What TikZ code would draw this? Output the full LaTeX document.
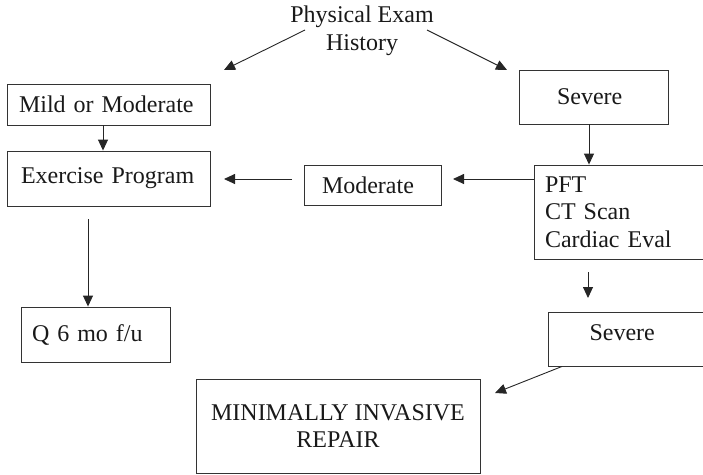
\documentclass[tikz,border=0pt]{standalone}
\usepackage{fontspec}
\setmainfont{Liberation Serif}
\usetikzlibrary{arrows.meta}
\begin{document}
\hyphenpenalty=10000\relax
\begin{tikzpicture}[x=1pt,y=-1pt,
  font=\fontsize{24pt}{27.6pt}\selectfont,
  every node/.style={text=black!90},
  box/.style={draw=black!80,line width=0.9pt,inner ysep=0pt},
  lbox/.style={box,align=left},
  conn/.style={draw=black!85,line width=0.9pt,-{Triangle[length=11pt,width=10pt]}}]
\useasboundingbox (0,0) rectangle (703,474);
% nodes
\node[inner sep=0pt,align=center] (phys) at (362,31) {Physical Exam\\History};
\node[lbox,inner xsep=12pt,text width=179pt,minimum height=41pt] (mild) at (108.5,104.5) {Mild or Moderate};
\node[lbox,inner xsep=14pt,text width=175pt,minimum height=55pt] (ex) at (108.5,178.5) {Exercise Program};
\node[lbox,inner xsep=18pt,text width=101pt,minimum height=40pt] (mod) at (372.5,185) {Moderate};
\node[lbox,inner xsep=38pt,text width=73pt,minimum height=54pt] (sev1) at (593.5,97) {Severe};
\node[lbox,inner xsep=11pt,text width=150pt,minimum height=94pt] (pft) at (620,212) {PFT\\CT Scan\\Cardiac Eval};
\node[lbox,inner xsep=11pt,text width=127pt,minimum height=55pt] (q6) at (95.5,334.5) {Q 6 mo f/u};
\node[lbox,inner xsep=41.5pt,text width=75pt,minimum height=54pt,text depth=12pt] (sev2) at (627,339) {Severe};
\node[box,align=center,minimum width=284pt,minimum height=94pt] (miv) at (338,426) {MINIMALLY INVASIVE\\REPAIR};
% free ends
\coordinate (p1s) at (305,30);
\coordinate (p1e) at (224,70);
\coordinate (p2s) at (427,30);
\coordinate (p2e) at (507,70);
\coordinate (m2s) at (292,179);
\coordinate (m2e) at (224,179);
\coordinate (pm) at (453,179);
\coordinate (exs) at (88,219);
\coordinate (ps) at (588,272);
\coordinate (pe) at (588,298);
\coordinate (se) at (495,393);
% connectors
\draw[conn] (p1s) -- (p1e);
\draw[conn] (p2s) -- (p2e);
\draw[conn] (mild.south -| 103,0) -- (ex.north -| 103,0);
\draw[conn] (m2s) -- (m2e);
\draw[conn] (pft.west |- pm) -- (pm);
\draw[conn] (sev1.south -| 589,0) -- (pft.north -| 589,0);
\draw[conn] (exs) -- (q6.north -| exs);
\draw[conn] (ps) -- (pe);
\draw[conn] (sev2.south -| 562,0) -- (se);
\end{tikzpicture}
\end{document}
